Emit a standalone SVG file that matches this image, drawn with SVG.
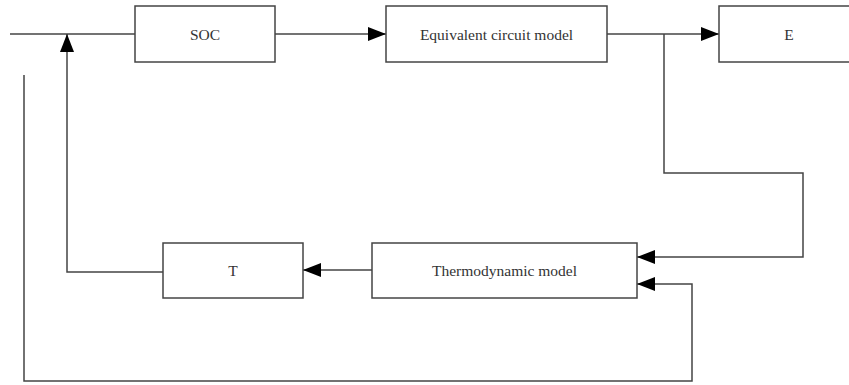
<svg xmlns="http://www.w3.org/2000/svg" width="849" height="385" viewBox="0 0 849 385">
<defs>
<style>
.box{fill:#fff;stroke:#444;stroke-width:1.5}
.lbl{font-family:"Liberation Serif","Times New Roman",serif;font-size:15.5px;fill:#333;text-anchor:middle}
.ln{fill:none;stroke:#444;stroke-width:1.5}
</style>
<marker id="ah" viewBox="0 0 18 14" refX="18" refY="7" markerWidth="18" markerHeight="14" markerUnits="userSpaceOnUse" orient="auto">
<path d="M0,0 L18,7 L0,14 Z" fill="#000"/>
</marker>
</defs>
<g id="connectors">
<path class="ln" d="M10,34 H135"/>
<path class="ln" d="M275,34 H386" marker-end="url(#ah)"/>
<path class="ln" d="M607,34 H719" marker-end="url(#ah)"/>
<path class="ln" d="M664,34 V173 H803 V257 H637" marker-end="url(#ah)"/>
<path class="ln" d="M24,75 V381 H692 V284 H637" marker-end="url(#ah)"/>
<path class="ln" d="M372,270 H303" marker-end="url(#ah)"/>
<path class="ln" d="M163,272 H67 V34" marker-end="url(#ah)"/>
</g>
<g id="soc"><rect class="box" x="135" y="6" width="140" height="56"/><text class="lbl" x="205" y="39.5">SOC</text></g>
<g id="ecm"><rect class="box" x="386" y="6" width="221" height="56"/><text class="lbl" x="496.5" y="39.5">Equivalent circuit model</text></g>
<g id="e"><rect class="box" x="719" y="6" width="140" height="56"/><text class="lbl" x="789" y="39.5">E</text></g>
<g id="thermo"><rect class="box" x="372" y="243" width="265" height="55"/><text class="lbl" x="504.5" y="275.5">Thermodynamic model</text></g>
<g id="t"><rect class="box" x="163" y="243" width="140" height="55"/><text class="lbl" x="233" y="275.5">T</text></g>
</svg>
